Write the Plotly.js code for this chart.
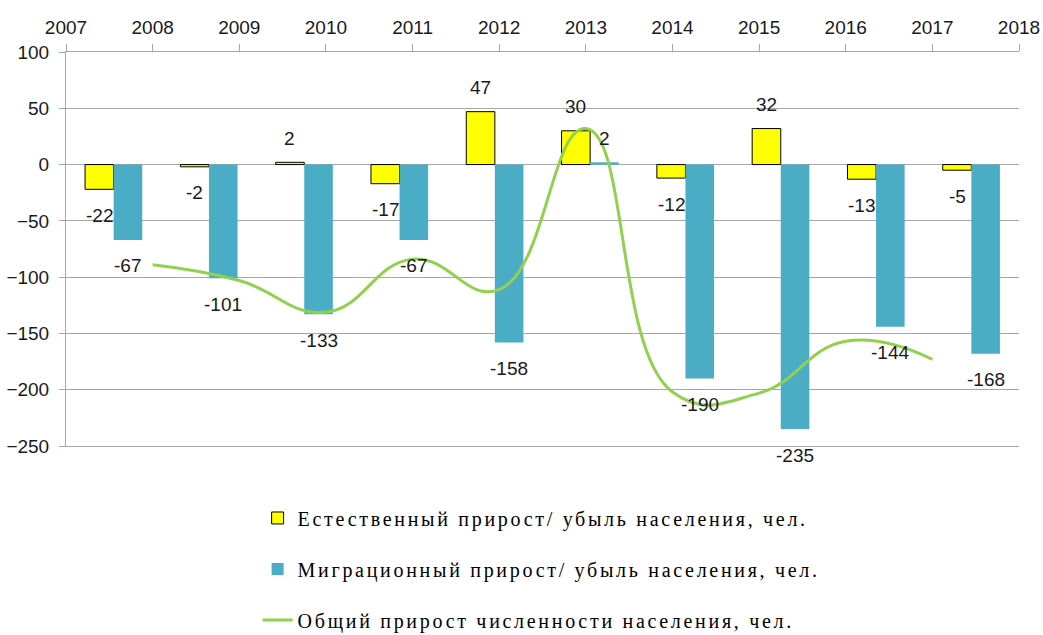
<!DOCTYPE html>
<html>
<head>
<meta charset="utf-8">
<script src="https://cdn.plot.ly/plotly-3.0.1.min.js"></script>
<style>
  html, body { margin: 0; padding: 0; background: #fff; }
  #chart { width: 1043px; height: 635px; }
  .legendtext { letter-spacing: 2.7px; }
</style>
</head>
<body>
<div id="chart"></div>
<script>
// ---- data ----
const years = [2008, 2009, 2010, 2011, 2012, 2013, 2014, 2015, 2016, 2017];
const naturalGrowth = [-22, -2, 2, -17, 47, 30, -12, 32, -13, -5];
const migrationGrowth = [-67, -101, -133, -67, -158, 2, -190, -235, -144, -168];
const totalGrowth = [-89, -103, -131, -84, -111, 32, -202, -203, -157, -173];
const axisYears = [2007, 2008, 2009, 2010, 2011, 2012, 2013, 2014, 2015, 2016, 2017, 2018];
const seriesNames = [
  'Естественный прирост/ убыль населения, чел.',
  'Миграционный прирост/ убыль населения, чел.',
  'Общий прирост численности населения, чел.'
];

const gridColor = '#a6a6a6';
const textColor = '#1a1a1a';
const sansFont = 'Liberation Sans, Arial, sans-serif';

const traces = [
  {
    type: 'bar', name: seriesNames[0], x: years, y: naturalGrowth,
    xaxis: 'x', yaxis: 'y', legendgroup: 'a',
    marker: { color: '#ffff00', line: { color: '#000000', width: 1 } },
    hoverinfo: 'none'
  },
  {
    type: 'bar', name: seriesNames[1], x: years, y: migrationGrowth,
    xaxis: 'x', yaxis: 'y', legendgroup: 'b',
    marker: { color: '#4bacc6', line: { width: 0 } },
    hoverinfo: 'none'
  },
  {
    type: 'scatter', mode: 'lines', name: seriesNames[2], x: years, y: totalGrowth,
    xaxis: 'x2', yaxis: 'y', legendgroup: 'c',
    line: { color: '#92d050', width: 3, shape: 'spline', smoothing: 1.3 },
    hoverinfo: 'none'
  }
];

const annotations = [];
years.forEach((yr, i) => {
  const a = naturalGrowth[i];
  annotations.push({
    x: yr - 0.15, y: a, xref: 'x', yref: 'y', text: String(a), showarrow: false,
    yshift: a >= 0 ? 24 : -26, font: { family: sansFont, size: 19, color: textColor }
  });
  const b = migrationGrowth[i];
  annotations.push({
    x: yr + 0.15, y: b, xref: 'x', yref: 'y', text: String(b), showarrow: false,
    yshift: b >= 0 ? 24 : -26, font: { family: sansFont, size: 19, color: textColor }
  });
});

const layout = {
  width: 1043, height: 635,
  margin: { l: 66, r: 24, t: 52, b: 189, pad: 0, autoexpand: false },
  paper_bgcolor: '#ffffff', plot_bgcolor: '#ffffff',
  barmode: 'group', bargap: 0.4, bargroupgap: 0,
  showlegend: true,
  legend: {
    orientation: 'v', xref: 'container', yref: 'container',
    x: 0.247, xanchor: 'left', y: 0.215, yanchor: 'top',
    font: { family: 'Liberation Serif, Times New Roman, serif', size: 20, color: '#000' },
    tracegroupgap: 22, bgcolor: 'rgba(0,0,0,0)'
  },
  xaxis: {
    range: [2007.5, 2017.5], showticklabels: false, showgrid: false, zeroline: false,
    showline: true, linecolor: gridColor, linewidth: 1, ticks: '', fixedrange: true
  },
  xaxis2: {
    overlaying: 'x', side: 'top', anchor: 'y', range: [2007, 2018],
    tickmode: 'array', tickvals: axisYears, ticktext: axisYears.map(String),
    ticks: 'outside', ticklen: 7, tickcolor: gridColor, tickwidth: 1,
    showline: true, linecolor: gridColor, linewidth: 1, showgrid: false, zeroline: false,
    ticklabelstandoff: 2,
    tickfont: { family: sansFont, size: 19, color: textColor }
  },
  yaxis: {
    range: [-250, 100], tickmode: 'linear', tick0: -250, dtick: 50,
    showgrid: true, gridcolor: gridColor, gridwidth: 1,
    zeroline: true, zerolinecolor: gridColor, zerolinewidth: 1,
    showline: true, linecolor: gridColor, linewidth: 1,
    ticks: 'outside', ticklen: 6, tickcolor: gridColor,
    ticklabelstandoff: 6,
    tickfont: { family: sansFont, size: 19, color: textColor }
  },
  annotations: annotations
};

Plotly.newPlot('chart', traces, layout, { staticPlot: true, displayModeBar: false });
</script>
</body>
</html>
